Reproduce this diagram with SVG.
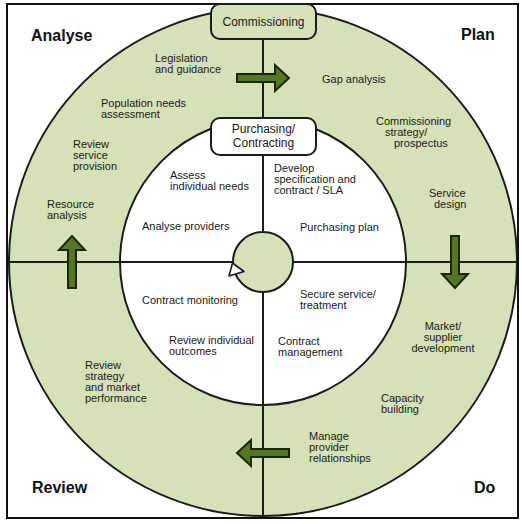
<svg xmlns="http://www.w3.org/2000/svg" width="522" height="524" viewBox="0 0 522 524">
<style>
.ln{stroke:#1c1c1c;stroke-width:2;fill:none}
.ring{fill:#d5e2b8;stroke:#1c1c1c;stroke-width:2}
.t{font-family:"Liberation Sans",Arial,sans-serif;font-size:11px;fill:#1a1a1a}
.h{font-family:"Liberation Sans",Arial,sans-serif;font-size:16px;font-weight:bold;fill:#111}
.bx{font-family:"Liberation Sans",Arial,sans-serif;font-size:12px;fill:#1a1a1a}
.arr{fill:#557722;stroke:#1a260c;stroke-width:2;stroke-linejoin:miter}
</style>
<defs>
<path id="arrow" d="M0,-4 L38,-4 L38,-13 L52,0 L38,13 L38,4 L0,4 Z"/>
</defs>
<rect x="0" y="0" width="522" height="524" fill="#fff"/>
<g id="outer-ring">
<circle class="ring" cx="263" cy="262" r="254"/>
</g>
<g id="inner-circle">
<circle cx="263" cy="262" r="143" fill="#fff" stroke="#1c1c1c" stroke-width="2"/>
</g>
<g id="connectors">
<line class="ln" x1="263" y1="4" x2="263" y2="518"/>
<line class="ln" x1="7" y1="262" x2="518" y2="262"/>
<use href="#arrow" class="arr" transform="translate(237,78)"/>
<use href="#arrow" class="arr" transform="translate(455,236) rotate(90)"/>
<use href="#arrow" class="arr" transform="translate(289,453) rotate(180)"/>
<use href="#arrow" class="arr" transform="translate(72,288) rotate(-90)"/>
</g>
<rect x="7" y="4" width="511" height="514" fill="none" stroke="#111" stroke-width="2"/>
<g id="center">
<circle cx="263" cy="262" r="30" fill="#d5e2b8" stroke="#1c1c1c" stroke-width="2"/>
<polygon points="229,276 232.5,263 244,271.5" fill="#fff" stroke="#1c1c1c" stroke-width="1.6" stroke-linejoin="round"/>
</g>
<g id="commissioning">
<rect x="211" y="4" width="105" height="35" rx="9" fill="#d5e2b8" stroke="#1c1c1c" stroke-width="2"/>
<text class="bx" x="263.5" y="26" text-anchor="middle">Commissioning</text>
</g>
<g id="purchasing">
<rect x="211" y="118" width="105" height="37" rx="9" fill="#fff" stroke="#1c1c1c" stroke-width="2"/>
<text class="bx" x="263.5" y="133" text-anchor="middle">Purchasing/</text>
<text class="bx" x="263.5" y="146.5" text-anchor="middle">Contracting</text>
</g>
<g id="headings">
<text class="h" x="31" y="41">Analyse</text>
<text class="h" x="461" y="40">Plan</text>
<text class="h" x="32" y="493">Review</text>
<text class="h" x="474" y="493">Do</text>
</g>
<g id="analyse">
<text class="t" x="155" y="62">Legislation<tspan x="155" dy="11">and guidance</tspan></text>
<text class="t" x="101" y="107">Population needs<tspan x="101" dy="11">assessment</tspan></text>
<text class="t" x="73" y="148">Review<tspan x="73" dy="11">service</tspan><tspan x="73" dy="11">provision</tspan></text>
<text class="t" x="47" y="208">Resource<tspan x="47" dy="11">analysis</tspan></text>
<text class="t" x="170" y="179">Assess<tspan x="170" dy="11">individual needs</tspan></text>
<text class="t" x="142" y="230">Analyse providers</text>
</g>
<g id="plan">
<text class="t" x="322" y="83">Gap analysis</text>
<text class="t" x="376" y="125">Commissioning<tspan x="385" dy="11">strategy/</tspan><tspan x="394" dy="11">prospectus</tspan></text>
<text class="t" x="429" y="197">Service<tspan x="434" dy="11">design</tspan></text>
<text class="t" x="274" y="172">Develop<tspan x="274" dy="11">specification and</tspan><tspan x="274" dy="11">contract / SLA</tspan></text>
<text class="t" x="300" y="231">Purchasing plan</text>
</g>
<g id="review">
<text class="t" x="142" y="304">Contract monitoring</text>
<text class="t" x="169" y="344">Review individual<tspan x="169" dy="11">outcomes</tspan></text>
<text class="t" x="85" y="369">Review<tspan x="85" dy="11">strategy</tspan><tspan x="85" dy="11">and market</tspan><tspan x="85" dy="11">performance</tspan></text>
</g>
<g id="do">
<text class="t" x="300" y="298">Secure service/<tspan x="300" dy="11">treatment</tspan></text>
<text class="t" x="278" y="345">Contract<tspan x="278" dy="11">management</tspan></text>
<text class="t" x="443" y="330" text-anchor="middle">Market/<tspan x="443" dy="11">supplier</tspan><tspan x="443" dy="11">development</tspan></text>
<text class="t" x="381" y="402">Capacity<tspan x="381" dy="11">building</tspan></text>
<text class="t" x="309" y="440">Manage<tspan x="309" dy="11">provider</tspan><tspan x="309" dy="11">relationships</tspan></text>
</g>
</svg>
